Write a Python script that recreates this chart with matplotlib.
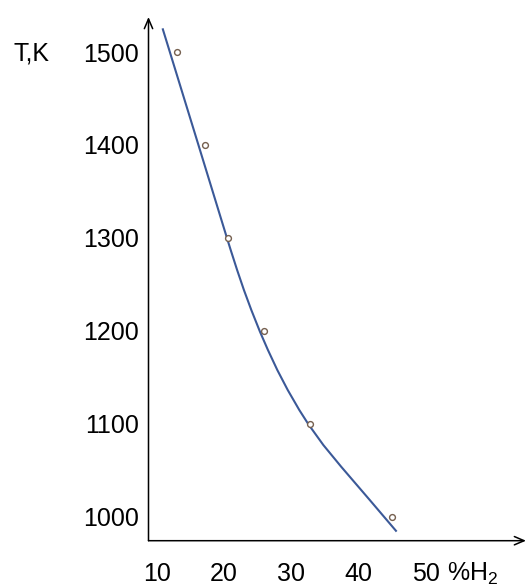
import matplotlib.pyplot as plt

plt.rcParams["font.family"] = ["Liberation Sans", "DejaVu Sans"]
plt.rcParams["mathtext.fontset"] = "custom"
plt.rcParams["mathtext.rm"] = "Liberation Sans"

# measured points (%H2, T)
h2_points = [13.0, 17.2, 20.5, 26.0, 32.8, 45.0]
t_points = [1500, 1400, 1300, 1200, 1100, 1000]

# hand-drawn fit curve
curve_h2 = [10.83, 11.93, 16.17, 20.41, 20.97, 21.93, 22.94, 24.04, 25.33, 26.51,
            27.91, 29.46, 31.18, 32.54, 34.76, 37.41, 41.66, 45.66]
curve_t = [1525.5, 1499.7, 1400, 1300, 1287, 1265.4, 1243.9, 1222.4, 1199, 1179.4,
           1157.8, 1136.3, 1114.8, 1099.4, 1077.1, 1053.8, 1018, 984]

x_ticks = [10, 20, 30, 40, 50]
y_ticks = [1000, 1100, 1200, 1300, 1400, 1500]

fig = plt.figure(figsize=(5.26, 5.86), dpi=100)
ax = fig.add_axes([148.5 / 526, 45.3 / 586, 377.5 / 526, 523.7 / 586])
ax.set_xlim(8.74, 64.91)
ax.set_ylim(974.2, 1537.7)

ax.plot(curve_h2, curve_t, color="#3b5998", linewidth=1.5,
        solid_capstyle="butt", solid_joinstyle="round")
ax.plot(h2_points, t_points, linestyle="none", marker="o", markersize=4.2,
        markerfacecolor="white", markeredgecolor="#75604f", markeredgewidth=1.0)

for s in ax.spines.values():
    s.set_visible(False)
arrow = dict(arrowstyle="->,head_length=0.7,head_width=0.3", color="black",
             linewidth=1.1, shrinkA=0, shrinkB=0)
ax.annotate("", xy=(0, 1), xytext=(0, 0), xycoords="axes fraction",
            textcoords="axes fraction", arrowprops=arrow, annotation_clip=False)
ax.annotate("", xy=(1, 0), xytext=(0, 0), xycoords="axes fraction",
            textcoords="axes fraction", arrowprops=arrow, annotation_clip=False)

ax.set_xticks(x_ticks)
ax.set_yticks(y_ticks)
ax.tick_params(axis="both", length=0, labelsize=18)
ax.tick_params(axis="x", pad=15)
ax.tick_params(axis="y", pad=7)

fig.text(13 / 526, 1 - 53 / 586, "T,K", fontsize=18, ha="left", va="center")
fig.text(447 / 526, 1 - 581 / 586, r"%H$_\mathregular{2}$", fontsize=18,
         ha="left", va="baseline")

fig.savefig("out.png", dpi=100)
